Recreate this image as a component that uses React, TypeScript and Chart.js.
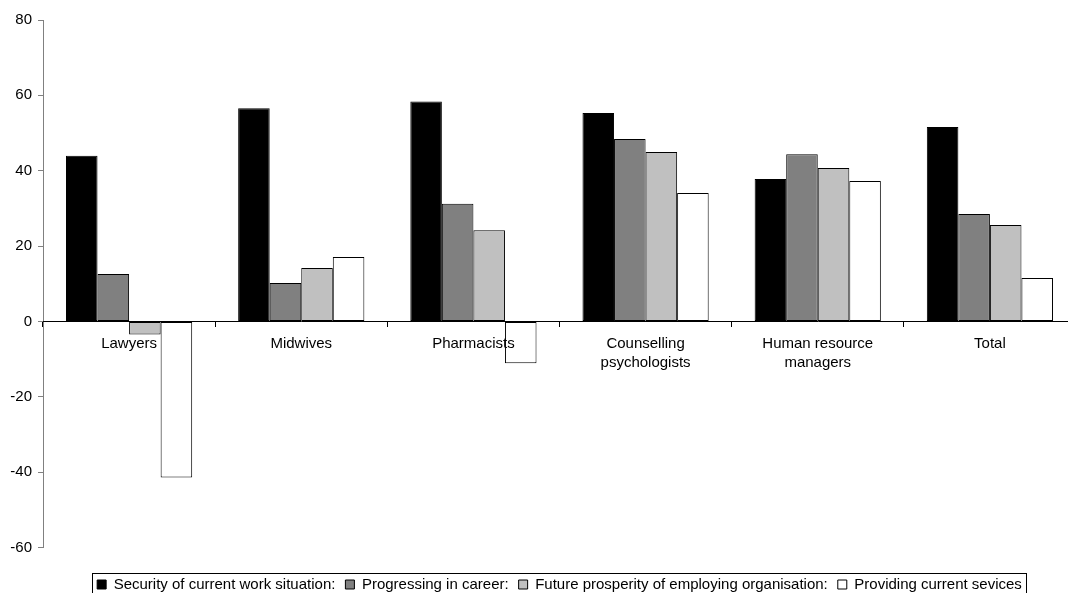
import React, { useEffect, useRef } from 'react';
import { Chart, registerables } from 'chart.js';

Chart.register(...registerables);

const categories: string[][] = [
  ['Lawyers'],
  ['Midwives'],
  ['Pharmacists'],
  ['Counselling', 'psychologists'],
  ['Human resource', 'managers'],
  ['Total'],
];
const seriesNames = [
  'Security of current work situation:',
  'Progressing in career:',
  'Future prosperity of employing organisation:',
  'Providing current sevices',
];
const security = [44, 56.6, 58.4, 55.3, 37.8, 51.6];
const progressing = [12.6, 10.2, 31.2, 48.4, 44.4, 28.5];
const prosperity = [-3.5, 14.2, 24.2, 45, 40.7, 25.6];
const providing = [-41.4, 17.1, -11.1, 34.1, 37.3, 11.5];
const seriesColors = ['#000000', '#808080', '#C0C0C0', '#FFFFFF'];
const yMin = -60;
const yMax = 80;
const yStep = 20;

const FONT = '"Liberation Sans", Arial, sans-serif';

const legendBorder = {
  id: 'legendBorder',
  afterDraw(chart: any) {
    const lg = chart.legend;
    if (!lg || !lg.legendHitBoxes || !lg.legendHitBoxes.length) return;
    const hb = lg.legendHitBoxes;
    const left = Math.min(...hb.map((h: any) => h.left));
    const right = Math.max(...hb.map((h: any) => h.left + h.width));
    const cy = hb[0].top + hb[0].height / 2;
    const ctx = chart.ctx;
    ctx.save();
    ctx.strokeStyle = '#000';
    ctx.lineWidth = 1;
    ctx.strokeRect(Math.round(left - 5) + 0.5, Math.round(cy - 12) + 0.5, Math.round(right - left + 9), 25);
    ctx.restore();
  },
};

export default function App() {
  const ref = useRef<HTMLCanvasElement | null>(null);
  useEffect(() => {
    if (!ref.current) return;
    const data = [security, progressing, prosperity, providing];
    const chart = new Chart(ref.current, {
      type: 'bar',
      data: {
        labels: categories,
        datasets: data.map((d, i) => ({
          label: seriesNames[i],
          data: d,
          backgroundColor: seriesColors[i],
          borderColor: '#000000',
          borderWidth: 1,
          borderSkipped: false,
          categoryPercentage: 0.733,
          barPercentage: 1,
        })),
      },
      options: {
        responsive: false,
        animation: false,
        devicePixelRatio: 1,
        layout: { padding: { top: 20, left: 0, right: 0, bottom: 0 } },
        plugins: {
          tooltip: { enabled: false },
          legend: {
            position: 'bottom',
            fullSize: false,
            labels: {
              boxWidth: 9,
              boxHeight: 9,
              padding: 10,
              color: '#000',
              font: { family: FONT, size: 15 },
            },
            title: {
              display: true,
              text: '',
              font: { family: FONT, size: 10, lineHeight: 1 },
              padding: { top: 9.5, bottom: 0 },
            },
          },
        },
        scales: {
          x: {
            type: 'category',
            position: { y: 0 } as any,
            offset: true,
            grid: {
              display: true,
              drawOnChartArea: false,
              drawTicks: true,
              offset: true,
              tickLength: 5,
              color: '#000',
              z: 1,
            },
            border: { display: true, color: '#000', width: 1, z: 1 },
            ticks: {
              color: '#000',
              padding: 8,
              maxRotation: 0,
              autoSkip: false,
              z: 1,
              font: { family: FONT, size: 15, lineHeight: 1.25 },
            },
          },
          y: {
            min: yMin,
            max: yMax,
            afterFit(scale: any) {
              scale.width = 43;
            },
            grid: {
              display: true,
              drawOnChartArea: false,
              drawTicks: true,
              tickLength: 5,
              color: '#808080',
            },
            border: { display: true, color: '#808080', width: 1 },
            ticks: {
              stepSize: yStep,
              color: '#000',
              padding: 6,
              font: { family: FONT, size: 15 },
            },
          },
        },
      },
      plugins: [legendBorder],
    });
    return () => chart.destroy();
  }, []);

  return (
    <div
      style={{
        position: 'fixed',
        left: 0,
        top: 0,
        width: 1068,
        height: 593,
        overflow: 'hidden',
        background: '#fff',
      }}
    >
      <canvas ref={ref} width={1076} height={602} style={{ display: 'block' }} />
    </div>
  );
}
